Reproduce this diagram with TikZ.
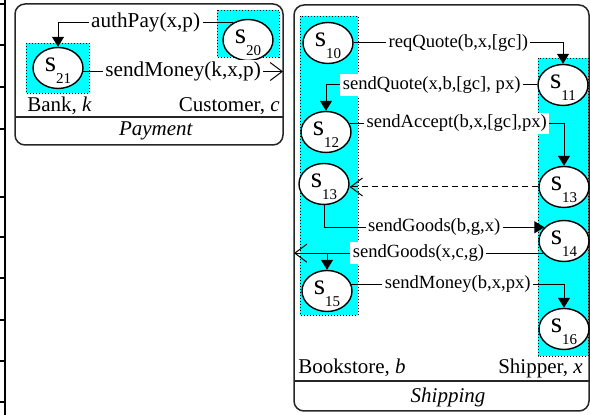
\documentclass[tikz,border=0pt]{standalone}
\usepackage{fontspec}
\setmainfont{Liberation Serif}
\usetikzlibrary{arrows.meta,shapes.geometric}
\definecolor{lanecyan}{RGB}{0,255,255}
\tikzset{
  stnode/.style = {ellipse, draw, line width=0.7pt, fill=white, inner sep=0pt,
    minimum width=25pt, minimum height=20.5pt},
  lane/.style = {fill=lanecyan, draw, line width=0.4pt, dash pattern=on 0.5pt off 1pt},
  boxframe/.style = {draw=black!85, line width=0.75pt, rounded corners=5pt},
  msg/.style = {fill=white, inner sep=1.2pt, font=\fontsize{9.3}{11}\selectfont},
  bigmsg/.style = {msg, font=\fontsize{10.6}{12}\selectfont},
  boxcap/.style = {inner sep=0pt, font=\fontsize{10.5}{12}\selectfont},
  send/.style = {-{Triangle[length=5pt,width=6pt]}, line width=0.5pt},
  leave/.style = {-{Straight Barb[length=6pt,width=9pt]}, line width=0.5pt}
}
\newcommand{\sname}[1]{\makebox[0pt]{\smash{\raisebox{-2pt}{\fontsize{14.5}{14}\selectfont s\raisebox{-6pt}{\fontsize{7.5}{8}\selectfont #1}}}}}

\begin{document}
\begin{tikzpicture}[x=0.5pt,y=-0.5pt]
  \useasboundingbox (0,0) rectangle (590,415);
  % table cut off on the left
  \draw[line width=0.7pt] (5,0) -- (5,415);
  \foreach \y in {4,45,87,129,197,237,278,320,361,402}
    \draw[line width=0.7pt] (0,\y) -- (5,\y);

  % payment
  \draw[boxframe] (15,4) rectangle (283,145);
  \draw[boxframe, rounded corners=0pt] (15,117) -- (283,117) coordinate (payE);
  \path[lane] (26,43) rectangle (89,93);
  \path[lane] (217,10) rectangle (279,57);
  \node[stnode] (s21) at (58,68) {\sname{21}};
  \node[stnode] (s20) at (248,40) {\sname{20}};
  \node[boxcap, anchor=west] (bank) at (27,106) {Bank, \textit{k}};
  \node[boxcap, anchor=east] (cust) at (280,106) {Customer, \textit{c}};
  \node[boxcap] (payment) at (156,131) {\textit{Payment}};
  \draw[send] (s20.130) -| node[bigmsg, pos=0.25] {authPay(x,p)} (s21.north);
  \draw[leave] (s21.-8) -- node[bigmsg] {sendMoney(k,x,p)} (s21.-8 -| payE);

  % shipping
  \draw[boxframe] (294,5) rectangle (589,411);
  \draw[boxframe, rounded corners=0pt] (294,381) coordinate (shipW) -- (589,381);
  \path[lane] (300,16) rectangle (358,315);
  \path[lane] (538,58) rectangle (588,356);
  \node[stnode] (s10) at (328,43) {\sname{10}};
  \node[stnode] (s11) at (563,85) {\sname{11}};
  \node[stnode] (s12) at (326,132) {\sname{12}};
  \node[stnode] (s13l) at (324,184) {\sname{13}};
  \node[stnode] (s13r) at (564,187) {\sname{13}};
  \node[stnode] (s14) at (564,241) {\sname{14}};
  \node[stnode] (s15) at (327,291) {\sname{15}};
  \node[stnode] (s16) at (564,329) {\sname{16}};
  \node[boxcap, anchor=west] (book) at (298,368) {Bookstore, \textit{b}};
  \node[boxcap, anchor=east] (shipper) at (583,368) {Shipper, \textit{x}};
  \node[boxcap] (shipping) at (448,397) {\textit{Shipping}};
  % messages
  \draw[send] (s10.east) -| node[msg, pos=0.25] {reqQuote(b,x,[gc])} (s11.north);
  \draw[send] (s11.west) -| node[msg, pos=0.25] {sendQuote(x,b,[gc], px)} (s12.north);
  \draw[send] (s12.20) -| node[msg, pos=0.25] {sendAccept(b,x,[gc],px)} (s13r.north);
  \draw[leave, dash pattern=on 3pt off 2pt] (s13r.west) -- (s13r.west -| s13l.east);
  \draw[send] (s13l.south) |- node[msg, pos=0.75] {sendGoods(b,g,x)} (s14.145);
  \draw[leave] (s14.210) -- node[msg] {sendGoods(x,c,g)} (s14.210 -| shipW);
  \coordinate (fork) at (s15.north |- s14.210);
  \draw[send] (fork) -- (s15.north);
  \draw[send] (s15.15) -| node[msg, pos=0.25] {sendMoney(b,x,px)} (s16.north);
\end{tikzpicture}
\end{document}
